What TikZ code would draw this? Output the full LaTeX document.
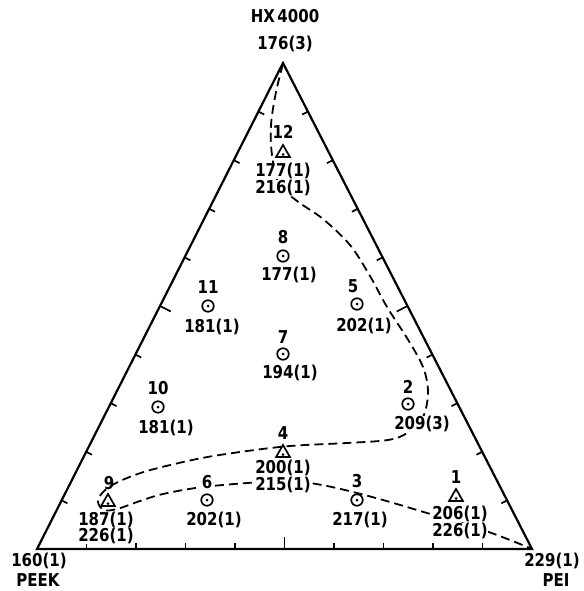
\documentclass[tikz,border=0pt]{standalone}
\usepackage{fontspec}
\setmainfont{DejaVu Sans}
\usetikzlibrary{calc,shapes.geometric}
\newcommand\tallt[1]{\scalebox{1}[1.18]{#1}}
\tikzset{
  side/.style={line width=2.2pt, line join=miter},
  tickline/.style={line width=1.7pt},
  bound/.style={line width=1.8pt, dash pattern=on 9pt off 5pt},
  lbl/.style={font=\fontsize{15}{18}\selectfont\bfseries, inner sep=0.5pt, fill=white},
  vlbl/.style={font=\fontsize{15}{18}\selectfont\bfseries, inner sep=0.5pt},
  circmark/.style={circle, draw, line width=1.7pt, minimum size=11.5pt, inner sep=0pt, fill=white},
  trimark/.style={regular polygon, regular polygon sides=3, draw, line width=1.7pt, minimum size=16pt, inner sep=0pt, fill=white},
}
\begin{document}
\begin{tikzpicture}[x=1pt,y=-1pt]
\useasboundingbox (0,0) rectangle (583,591);
% vertices
\coordinate (T) at (283,63);
\coordinate (BL) at (37,549);
\coordinate (BR) at (532,549);
% sides
\draw[side] (BL) -- (BR) -- (T) -- cycle;
% ticks
\foreach \a/\b in {BL/BR, BR/T, T/BL}{
  \foreach \i in {1,...,9}{
    \pgfmathsetmacro\tt{\i/10}
    \ifnum\i=5 \def\len{12pt}\else\def\len{6.5pt}\fi
    \coordinate (tk) at ($(\a)!\tt!(\b)$);
    \draw[tickline] (tk) -- ($(tk)!\len!90:(\b)$);
  }
}
% boundary curve
\draw[bound] plot[smooth, tension=0.55] coordinates {
  (283,64) (276,92) (271,125) (272,155) (279,184) (297,201) (323,219) (350,245)
  (370,276) (387,307) (407,338) (423,367) (428,392) (423,417) (407,433) (388,440)
  (347,443) (290,446) (240,452) (197,459) (147,471) (118,482) (103,492) (98,502)
  (104,510) (117,509) (140,501) (163,494) (203,487) (263,482) (300,482) (327,486)
  (357,493) (390,502) (427,513) (465,524) (497,535) (530,548)};
% vertex labels
\node[vlbl] (hx) at (285,16) {\tallt{HX\,4000}};
\node[vlbl] (hxv) at (285,44) {\tallt{176(3)}};
\node[vlbl] (peekv) at (39,561) {\tallt{160(1)}};
\node[vlbl] (peek) at (38,580) {\tallt{PEEK}};
\node[vlbl] (peiv) at (552,561) {\tallt{229(1)}};
\node[vlbl] (pei) at (556,580) {\tallt{PEI}};
% points
\node[trimark] (m12) at (283,153) {};
\node[lbl] (n12) at (283,132) {\tallt{12}};
\node[lbl] (a12) at (283,171) {\tallt{177(1)}};
\node[lbl] (b12) at (283,188) {\tallt{216(1)}};

\node[circmark] (m8) at (283,256) {};
\node[lbl] (n8) at (283,237) {\tallt{8}};
\node[lbl] (a8) at (289,275) {\tallt{177(1)}};

\node[circmark] (m11) at (208,306) {};
\node[lbl] (n11) at (208,287) {\tallt{11}};
\node[lbl] (a11) at (212,327) {\tallt{181(1)}};

\node[circmark] (m5) at (357,304) {};
\node[lbl] (n5) at (353,286) {\tallt{5}};
\node[lbl] (a5) at (364,326) {\tallt{202(1)}};

\node[circmark] (m7) at (283,354) {};
\node[lbl] (n7) at (283,337) {\tallt{7}};
\node[lbl] (a7) at (290,373) {\tallt{194(1)}};

\node[circmark] (m10) at (158,407) {};
\node[lbl] (n10) at (158,388) {\tallt{10}};
\node[lbl] (a10) at (166,428) {\tallt{181(1)}};

\node[circmark] (m2) at (408,404) {};
\node[vlbl] (n2) at (408,387) {\tallt{2}};
\node[lbl] (a2) at (422,424) {\tallt{209(3)}};

\node[trimark] (m4) at (283,453) {};
\node[lbl] (n4) at (283,433) {\tallt{4}};
\node[lbl] (a4) at (283,468) {\tallt{200(1)}};
\node[lbl] (b4) at (283,485) {\tallt{215(1)}};

\node[trimark] (m9) at (108,502) {};
\node[vlbl] (n9) at (109,483) {\tallt{9}};
\node[lbl] (a9) at (106,520) {\tallt{187(1)}};
\node[lbl] (b9) at (106,536) {\tallt{226(1)}};

\node[circmark] (m6) at (207,500) {};
\node[lbl] (n6) at (207,482) {\tallt{6}};
\node[lbl] (a6) at (214,520) {\tallt{202(1)}};

\node[circmark] (m3) at (357,500) {};
\node[vlbl] (n3) at (357,481) {\tallt{3}};
\node[lbl] (a3) at (360,520) {\tallt{217(1)}};

\node[trimark] (m1) at (456,497) {};
\node[lbl] (n1) at (456,477) {\tallt{1}};
\node[lbl] (a1) at (460,514) {\tallt{206(1)}};
\node[lbl] (b1) at (460,531) {\tallt{226(1)}};

% centre dots of the markers
\foreach \m in {m8,m11,m5,m7,m10,m2,m6,m3}{\fill (\m.center) circle (1.5pt);}
\foreach \m in {m12,m4,m9,m1}{\fill ($(\m.center)+(0,1.5)$) circle (1.5pt);}
\end{tikzpicture}
\end{document}
